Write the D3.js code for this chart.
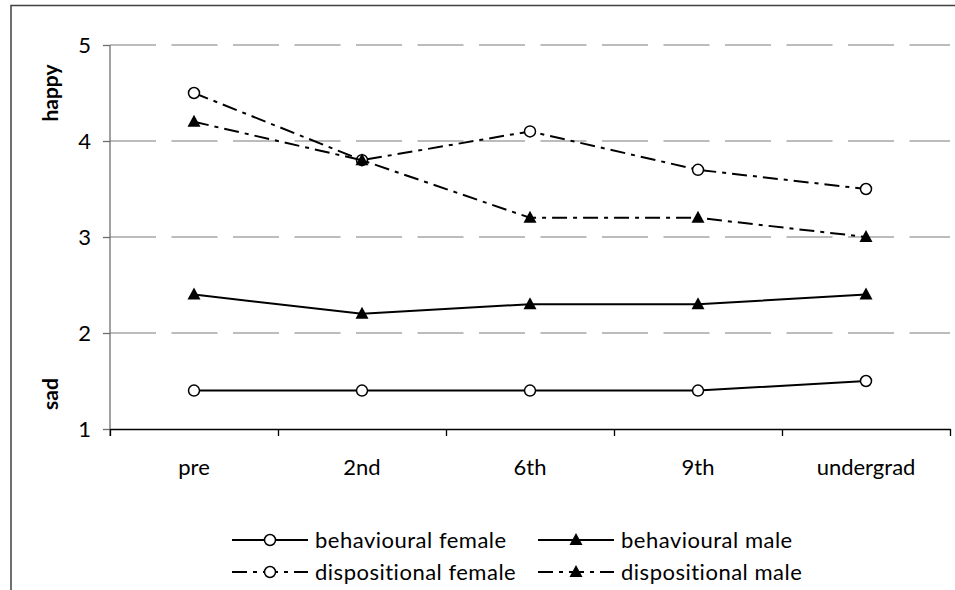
<!DOCTYPE html>
<html>
<head>
<meta charset="utf-8">
<script src="https://cdn.jsdelivr.net/npm/d3@7"></script>
<style>
  body { margin: 0; background: #fff; }
  svg text { font-family: Lato, "Open Sans", sans-serif; fill: #000; }
</style>
</head>
<body>
<div class="chart"></div>
<script>
(function(){
    // data
    var categories = ["pre", "2nd", "6th", "9th", "undergrad"];
    var behaviouralFemale   = [1.4, 1.4, 1.4, 1.4, 1.5];
    var behaviouralMale     = [2.4, 2.2, 2.3, 2.3, 2.4];
    var dispositionalFemale = [4.5, 3.8, 4.1, 3.7, 3.5];
    var dispositionalMale   = [4.2, 3.8, 3.2, 3.2, 3.0];
    var yTicks = [1, 2, 3, 4, 5];

    var series = [
        {name: "behavioural female",   values: behaviouralFemale,   marker: "circle",   dashed: false},
        {name: "behavioural male",     values: behaviouralMale,     marker: "triangle", dashed: false},
        {name: "dispositional female", values: dispositionalFemale, marker: "circle",   dashed: true},
        {name: "dispositional male",   values: dispositionalMale,   marker: "triangle", dashed: true}
    ];

    var width = 955, height = 590;
    var margin = {top: 45, left: 110, right: 5, bottom: 161};
    var plotW = width - margin.left - margin.right;
    var plotH = height - margin.top - margin.bottom;
    var dashPattern = "15,6,4,6";

    var svg = d3.select(".chart").append("svg")
        .attr("width", width)
        .attr("height", height);

    // outer frame (runs off the right and bottom edges)
    svg.append("rect")
        .attr("x", 11).attr("y", 5.5)
        .attr("width", 1000).attr("height", 700)
        .attr("fill", "none")
        .attr("stroke", "#404040")
        .attr("stroke-width", 1.5);

    var x = d3.scaleBand().domain(categories).range([0, plotW]);
    var xEdge = d3.scaleLinear().domain([0, categories.length]).range([0, plotW]);
    var y = d3.scaleLinear().domain([1, 5]).range([plotH, 0]);

    var g = svg.append("g")
        .attr("transform", "translate(" + margin.left + "," + margin.top + ")");

    // dashed gridlines
    g.append("g").selectAll("line")
        .data(yTicks.filter(function(d){ return d > 1; }))
        .enter().append("line")
        .attr("x1", 0).attr("x2", plotW)
        .attr("y1", function(d){ return y(d); })
        .attr("y2", function(d){ return y(d); })
        .attr("stroke", "#a6a6a6")
        .attr("stroke-width", 1.5)
        .attr("stroke-dasharray", "46,15.5");

    // y axis
    var yAxis = g.append("g")
        .call(d3.axisLeft(y).tickValues(yTicks).tickFormat(d3.format("d"))
            .tickSizeInner(7).tickSizeOuter(0).tickPadding(12));
    yAxis.select(".domain").attr("stroke", "#6e6e6e").attr("stroke-width", 1.3)
        .attr("d", "M0," + (plotH + 7) + "V0");
    yAxis.selectAll(".tick line").attr("stroke", "#6e6e6e").attr("stroke-width", 1.3);
    yAxis.selectAll("text").style("font-size", "22px").attr("fill", "#000");

    // x axis: boundary ticks + centred labels
    var xAxis = g.append("g")
        .attr("transform", "translate(0," + plotH + ")")
        .call(d3.axisBottom(xEdge).tickValues(d3.range(categories.length + 1)).tickFormat("").tickSizeInner(7).tickSizeOuter(0));
    xAxis.select(".domain").attr("stroke", "#000").attr("stroke-width", 1.5);
    xAxis.selectAll(".tick line").attr("stroke", "#000").attr("stroke-width", 1.3);

    var xLabels = g.append("g")
        .attr("transform", "translate(0," + plotH + ")")
        .call(d3.axisBottom(x).tickSize(0).tickPadding(30));
    xLabels.select(".domain").remove();
    xLabels.selectAll("text").style("font-size", "22px").attr("fill", "#000");

    // axis titles
    svg.append("text")
        .attr("transform", "translate(58," + 93 + ") rotate(-90)")
        .attr("text-anchor", "middle")
        .style("font-size", "21px").style("font-weight", "bold")
        .text("happy");
    svg.append("text")
        .attr("transform", "translate(58," + 394 + ") rotate(-90)")
        .attr("text-anchor", "middle")
        .style("font-size", "21px").style("font-weight", "bold")
        .text("sad");

    var line = d3.line()
        .x(function(d, i){ return x(categories[i]) + x.bandwidth() / 2; })
        .y(function(d){ return y(d); });

    function drawMarker(sel, type) {
        if (type === "circle") {
            sel.append("circle")
                .attr("r", 5.5)
                .attr("fill", "#fff")
                .attr("stroke", "#000")
                .attr("stroke-width", 1.5);
        } else {
            sel.append("path")
                .attr("d", "M0,-7L6.5,5L-6.5,5Z")
                .attr("fill", "#000");
        }
    }

    // series lines and markers
    series.forEach(function(s){
        g.append("path")
            .datum(s.values)
            .attr("d", line)
            .attr("fill", "none")
            .attr("stroke", "#000")
            .attr("stroke-width", 2)
            .attr("stroke-dasharray", s.dashed ? dashPattern : null);

        g.append("g").selectAll("g")
            .data(s.values)
            .enter().append("g")
            .attr("transform", function(d, i){
                return "translate(" + (x(categories[i]) + x.bandwidth() / 2) + "," + y(d) + ")";
            })
            .each(function(){ drawMarker(d3.select(this), s.marker); });
    });

    // legend, 2 x 2
    var legendCols = [232, 538];
    var legendRows = [540, 572];
    series.forEach(function(s, i){
        var lx = legendCols[i % 2], ly = legendRows[Math.floor(i / 2)];
        var lg = svg.append("g").attr("transform", "translate(" + lx + "," + ly + ")");
        lg.append("line")
            .attr("x1", 0).attr("x2", 76)
            .attr("stroke", "#000").attr("stroke-width", 2)
            .attr("stroke-dasharray", s.dashed ? dashPattern : null);
        drawMarker(lg.append("g").attr("transform", "translate(38,0)"), s.marker);
        lg.append("text")
            .attr("x", 83).attr("dy", "0.35em")
            .style("font-size", "22px")
            .style("letter-spacing", "0.5px")
            .text(s.name);
    });
})();
</script>
</body>
</html>
